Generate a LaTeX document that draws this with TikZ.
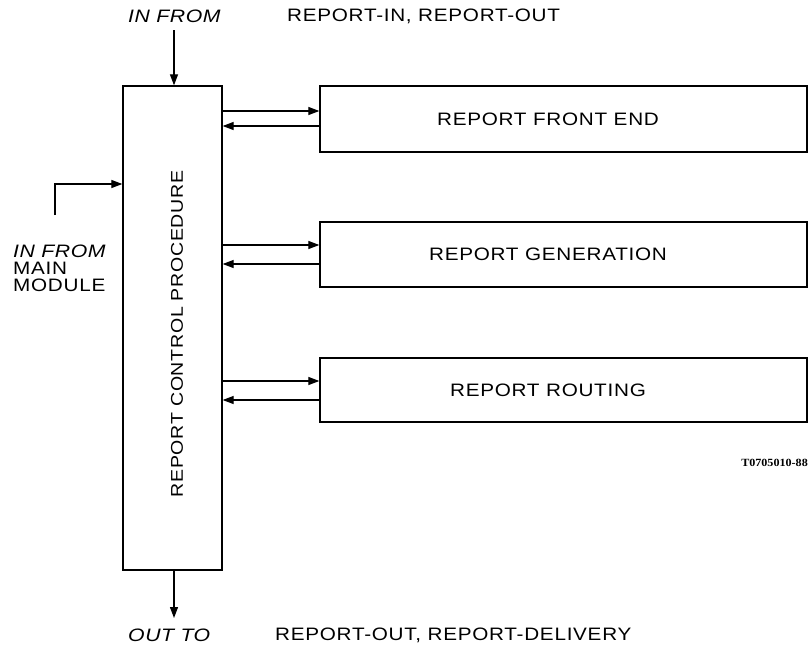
\documentclass[tikz,border=0pt]{standalone}
\usepackage{fontspec}
\setmainfont{Liberation Sans}
\newfontfamily\spaced[FakeStretch=1.15,LetterSpace=4]{Liberation Sans}
\newfontfamily\ispaced[FakeStretch=1.18,LetterSpace=3]{Liberation Sans Italic}
\newfontfamily\figfont[FakeStretch=1.1]{Liberation Serif}
\usetikzlibrary{arrows.meta}
\begin{document}
\begin{tikzpicture}[x=1pt,y=-1pt,
  box/.style={draw,line width=1.3pt,inner sep=0pt},
  lbl/.style={font=\fontsize{18}{20}\selectfont\spaced,inner sep=0pt},
  vlbl/.style={font=\fontsize{17}{19}\selectfont\spaced,inner sep=0pt},
  ilbl/.style={font=\fontsize{18}{20}\selectfont\ispaced,inner sep=0pt},
  conn/.style={line width=1.2pt,-{Triangle[length=11pt,width=8pt]}}]
\useasboundingbox (0,0) rectangle (809,648);
% main box
\node[box,minimum width=99pt,minimum height=484pt] (main) at (172.5,328) {};
\node[vlbl,rotate=90] (mainlbl) at (177,334) {REPORT CONTROL PROCEDURE};
% sub boxes
\node[box,minimum width=487pt,minimum height=66pt] (fe) at (563.5,119) {};
\node[lbl] (felbl) at (548,119) {REPORT FRONT END};
\node[box,minimum width=487pt,minimum height=65pt] (gen) at (563.5,254.5) {};
\node[lbl] (genlbl) at (548,254) {REPORT GENERATION};
\node[box,minimum width=487pt,minimum height=64pt] (rout) at (563.5,390) {};
\node[lbl] (routlbl) at (548,390) {REPORT ROUTING};
% connectors
\draw[conn] (main.east |- 0,111) -- (fe.west |- 0,111);
\draw[conn] (fe.west |- 0,126) -- (main.east |- 0,126);
\draw[conn] (main.east |- 0,245) -- (gen.west |- 0,245);
\draw[conn] (gen.west |- 0,264) -- (main.east |- 0,264);
\draw[conn] (main.east |- 0,381) -- (rout.west |- 0,381);
\draw[conn] (rout.west |- 0,400) -- (main.east |- 0,400);
% top input
\node[ilbl,anchor=west] (infrom) at (128,16) {IN FROM};
\node[lbl,anchor=west] (topmsg) at (287,16) {REPORT-IN, REPORT-OUT};
\coordinate (topstart) at (174,30);
\draw[conn] (topstart) -- (topstart |- main.north);
% left input
\coordinate (leftstart) at (55,215);
\draw[conn] (leftstart) |- (main.west |- 0,184);
\node[ilbl,anchor=west] (infrom2) at (13,251) {IN FROM};
\node[lbl,anchor=west] (main1) at (13,268) {MAIN};
\node[lbl,anchor=west] (main2) at (13,285) {MODULE};
% bottom output
\coordinate (botend) at (174,618);
\draw[conn] (botend |- main.south) -- (botend);
\node[ilbl,anchor=west] (outto) at (128,635) {OUT TO};
\node[lbl,anchor=west] (botmsg) at (275,635) {REPORT-OUT, REPORT-DELIVERY};
% figure id
\node[font=\fontsize{11}{12}\selectfont\bfseries\figfont,inner sep=0pt,anchor=east] (figid) at (808,463) {T0705010-88};
\end{tikzpicture}
\end{document}
